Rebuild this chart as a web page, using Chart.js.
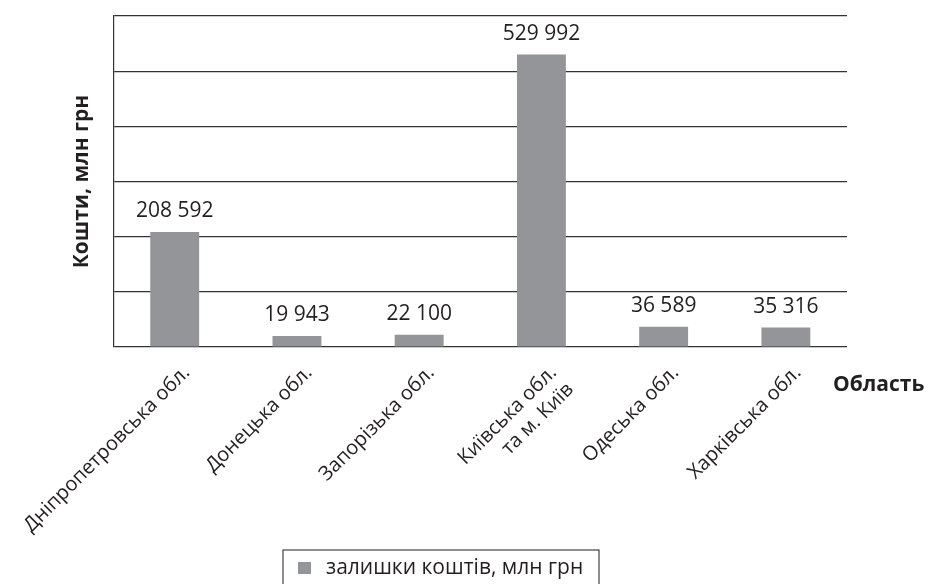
<!DOCTYPE html>
<html>
<head>
<meta charset="utf-8">
<script src="https://cdn.jsdelivr.net/npm/chart.js@4/dist/chart.umd.min.js"></script>
<style>
  html, body { margin: 0; padding: 0; background: #fff; }
  #wrap { width: 932px; height: 584px; }
</style>
</head>
<body>
<div id="wrap"><canvas id="chartKoshty" width="932" height="584"></canvas></div>
<script>
// Дані діаграми
const oblasti = [
  'Дніпропетровська обл.',
  'Донецька обл.',
  'Запорізька обл.',
  ['Київська обл.', 'та м. Київ'],
  'Одеська обл.',
  'Харківська обл.'
];
const zalyshky = [208592, 19943, 22100, 529992, 36589, 35316];
const seriesLabel = 'залишки коштів, млн грн';
const yTitle = 'Кошти, млн грн';
const xTitle = 'Область';
const yMax = 600000;
const yStep = 100000;

const barColor = '#939598';
const fontFamily = '"Open Sans", "Noto Sans", sans-serif';

function formatNum(v) {
  return String(v).replace(/\B(?=(\d{3})+(?!\d))/g, ' ');
}

// Підписи значень над стовпчиками, назва осі X та легенда
const extras = {
  id: 'extras',
  afterDatasetsDraw(chart) {
    const ctx = chart.ctx;
    const meta = chart.getDatasetMeta(0);
    ctx.save();
    ctx.fillStyle = '#231f20';
    ctx.font = '21px ' + fontFamily;
    ctx.textAlign = 'center';
    ctx.textBaseline = 'alphabetic';
    meta.data.forEach((bar, i) => {
      ctx.fillText(formatNum(zalyshky[i]), bar.x, bar.y - 15);
    });
    ctx.restore();
  },
  afterDraw(chart) {
    const ctx = chart.ctx;
    const area = chart.chartArea;
    ctx.save();
    // назва осі X праворуч
    ctx.fillStyle = '#231f20';
    ctx.font = 'bold 21px ' + fontFamily;
    ctx.textAlign = 'left';
    ctx.textBaseline = 'alphabetic';
    ctx.fillText(xTitle, area.right - 14, area.bottom + 44);

    // легенда в рамці
    ctx.strokeStyle = '#444';
    ctx.lineWidth = 1.2;
    ctx.strokeRect(283, 550, 316, 45);
    ctx.fillStyle = chart.data.datasets[0].backgroundColor;
    ctx.fillRect(298, 562, 13, 12);
    ctx.fillStyle = '#231f20';
    ctx.font = '21px ' + fontFamily;
    ctx.textBaseline = 'middle';
    ctx.fillText(chart.data.datasets[0].label, 326, 568);
    ctx.restore();
  }
};

new Chart(document.getElementById('chartKoshty'), {
  type: 'bar',
  data: {
    labels: oblasti,
    datasets: [{
      label: seriesLabel,
      data: zalyshky,
      backgroundColor: barColor,
      borderWidth: 0,
      barPercentage: 0.4,
      categoryPercentage: 1
    }]
  },
  options: {
    responsive: false,
    animation: false,
    layout: { padding: { left: 64, right: 85, top: 16, bottom: 0 } },
    plugins: {
      legend: { display: false },
      tooltip: { enabled: false }
    },
    scales: {
      x: {
        grid: { display: false },
        border: { display: false },
        ticks: {
          autoSkip: false,
          minRotation: 45,
          maxRotation: 45,
          color: '#231f20',
          font: { family: fontFamily, size: 20 },
          padding: 6,
          labelOffset: 12
        },
        afterFit(scale) { scale.height = 237; }
      },
      y: {
        min: 0,
        max: yMax,
        grid: { color: '#333', lineWidth: 1.2, drawTicks: false },
        border: { display: true, color: '#333', width: 1.2 },
        ticks: { display: false, stepSize: yStep },
        title: {
          display: true,
          text: yTitle,
          color: '#231f20',
          font: { family: fontFamily, size: 21, weight: 'bold' },
          padding: { top: 3, bottom: 4 }
        },
        afterFit(scale) { scale.width = 47; }
      }
    }
  },
  plugins: [extras]
});
</script>
</body>
</html>
